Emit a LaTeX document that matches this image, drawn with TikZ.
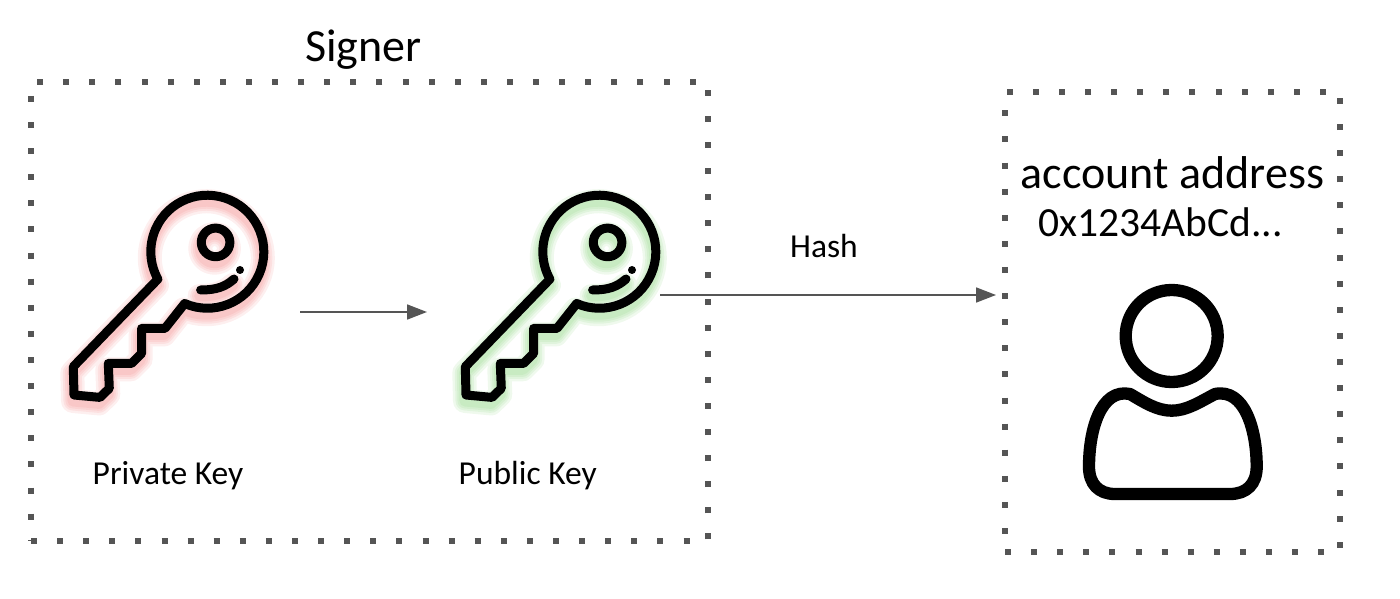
\documentclass[tikz,border=0pt]{standalone}
\usepackage{fontspec}
\setmainfont{Carlito}
\usetikzlibrary{arrows.meta}
\usetikzlibrary{positioning}

\definecolor{linegray}{HTML}{555555}
\definecolor{glowred}{HTML}{F06A6A}
\definecolor{glowgreen}{HTML}{6CC85C}

\newcommand{\keyshape}{(-22.6,-51.8) arc[start angle=-113.6, end angle=209, radius=56.5] -- (-134,-115) -- (-133.3,-143.3) -- (-107.3,-145.7) -- (-98,-136.7) -- (-99,-111.7) -- (-75.7,-111.7) -- (-65.7,-101.7) -- (-65.7,-76.7) -- (-42.3,-76.7) -- cycle (8.3,9.3) circle[radius=14.3] (-6.7,-38.3) .. controls (9.3,-38.3) and (18,-35) .. (26.7,-27.3)}

\tikzset{
	dotbox/.style={draw=linegray, line width=6pt, dash pattern=on 6pt off 20.1pt},
	arrowline/.style={draw=linegray, line width=1.8pt, -{Triangle[length=20pt, width=15pt]}},
	bigtext/.style={font=\fontsize{46}{50}\selectfont, inner sep=0pt},
	smalltext/.style={font=\fontsize{33.5}{36}\selectfont, inner sep=0pt},
	pics/keyicon/.style={
		code={
			\foreach \glow in {24,19,15,11} {
				\draw[#1, opacity=0.11, line width=\glow pt, line join=round, line cap=round, shift={(-1,-6)}] \keyshape;
			}
			\draw[black, line width=9pt, line join=round, line cap=round] \keyshape;
			\fill[black] (32.7,-18.3) circle[radius=4];
			\coordinate (-source) at (92.7,-60.3);
			\coordinate (-target) at (-172.3,-60.3);
			\coordinate (-hash) at (60.7,-43.3);
		}
	},
}

\begin{document}
\begin{tikzpicture}[x=1pt, y=1pt]
	\useasboundingbox (0,0) rectangle (1400,598);

	\begin{scope}
		\node (signer) [dotbox, minimum width=677pt, minimum height=459pt] at (369.5,286.5) {};
		\node (signer title) [bigtext, above=9pt of signer.north, xshift=-6pt] {Signer};

		\pic (private) at (207.3,346.3) {keyicon=glowred};
		\pic (public) at (599.3,346.3) {keyicon=glowgreen};

		\node (private label) [smalltext] at (168,122) {Private Key};
		\node (public label) [smalltext, right=215pt of private label] {Public Key};

		\draw[arrowline] (private-source) -- (public-target);
	\end{scope}

	\begin{scope}
		\node (account) [dotbox, minimum width=335pt, minimum height=460pt] at (1172.5,276) {};
		\node (address) [bigtext, below=67pt of account.north] {account address};
		\node (address value) [bigtext, font=\fontsize{41.5}{50}\selectfont, below=19pt of address, xshift=-12pt] {0x1234AbCd...};

		% person
		\draw[black, line width=12.3pt] (1171.7,262) circle[radius=46];
		\begin{scope}[shift={(1171.7,262)}]
			\draw[black, line width=12.3pt, line join=round] (-41.7,-58) .. controls (-28,-66) and (-15,-74.7) .. (0,-74.7) .. controls (15,-74.7) and (28,-66) .. (43.3,-58) .. controls (73,-52) and (85,-94) .. (85,-130.7) .. controls (85,-148) and (75,-158) .. (58.3,-158) -- (-56.7,-158) .. controls (-73,-158) and (-82.7,-148) .. (-82.7,-130.7) .. controls (-82.7,-94) and (-71,-52) .. cycle;
		\end{scope}
	\end{scope}

	\node (hash label) [smalltext, above=37pt of public-hash, xshift=164pt] {Hash};
	\draw[arrowline, shorten >=6pt] (public-hash) -- (public-hash-|account.west);
\end{tikzpicture}
\end{document}
